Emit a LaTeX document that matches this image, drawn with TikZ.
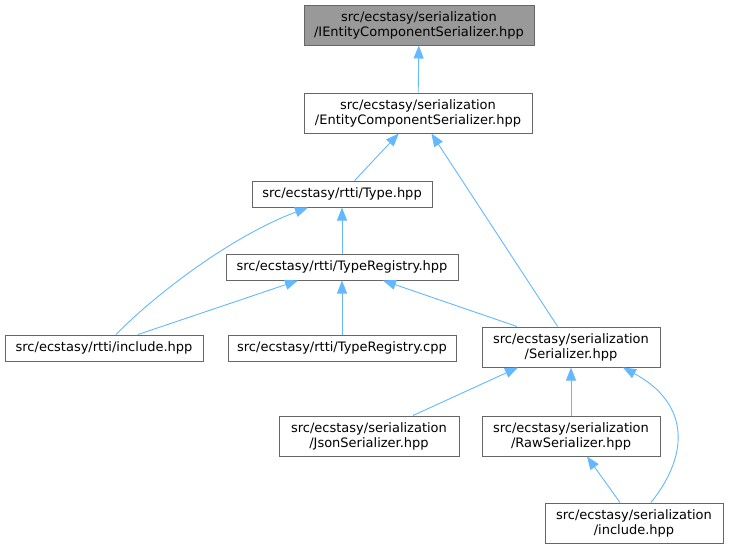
\documentclass[tikz,border=0pt]{standalone}
\usepackage{fontspec}
\setmainfont{DejaVu Sans}
\usetikzlibrary{arrows.meta}
\definecolor{edgeblue}{HTML}{63B8FF}
\definecolor{boxgray}{HTML}{666666}
\definecolor{fillgray}{HTML}{999999}
\begin{document}
\begin{tikzpicture}[x=1pt,y=-1pt,
  box/.style={draw=boxgray,line width=1pt,fill=white,rectangle,inner sep=0pt,align=center,font=\fontsize{13}{15}\selectfont},
  dep/.style={draw=edgeblue,line width=0.9pt,-{Triangle[length=13pt,width=10pt]},edgeblue}]
\useasboundingbox (0,0) rectangle (729,549);
\node[box,fill=fillgray,minimum width=230,minimum height=40] (iecs) at (419,25) {src/ecstasy/serialization\\/IEntityComponentSerializer.hpp};
\node[box,minimum width=228,minimum height=40] (ecs) at (418,113) {src/ecstasy/serialization\\/EntityComponentSerializer.hpp};
\node[box,minimum width=180,minimum height=26] (type) at (342,194) {src/ecstasy/rtti/Type.hpp};
\node[box,minimum width=232,minimum height=26] (treg) at (342,267) {src/ecstasy/rtti/TypeRegistry.hpp};
\node[box,minimum width=198,minimum height=26] (rinc) at (104,348) {src/ecstasy/rtti/include.hpp};
\node[box,minimum width=228,minimum height=26] (tcpp) at (342,348) {src/ecstasy/rtti/TypeRegistry.cpp};
\node[box,minimum width=178,minimum height=40] (ser) at (571,347) {src/ecstasy/serialization\\/Serializer.hpp};
\node[box,minimum width=180,minimum height=40] (json) at (369,436) {src/ecstasy/serialization\\/JsonSerializer.hpp};
\node[box,minimum width=178,minimum height=40] (raw) at (571,436) {src/ecstasy/serialization\\/RawSerializer.hpp};
\node[box,minimum width=178,minimum height=40] (sinc) at (634,523) {src/ecstasy/serialization\\/include.hpp};

\draw[dep] (ecs) -- (iecs);
\draw[dep] (type) -- (ecs);
\draw[dep] (ser) -- (ecs);
\draw[dep] (treg) -- (type);
\draw[dep] ([xshift=12pt]rinc.north) .. controls +(35,-36) and +(-80,30) .. ([xshift=-34pt]type.south);
\draw[dep] ([xshift=34pt]rinc.north) -- ([xshift=-44pt]treg.south);
\draw[dep] (tcpp) -- (treg);
\draw[dep] ([xshift=-54pt]ser.north) -- ([xshift=41pt]treg.south);
\draw[dep] ([xshift=44pt]json.north) -- ([xshift=-53pt]ser.south);
\draw[dep] (raw) -- (ser);
\draw[dep] ([xshift=-14pt]sinc.north) -- ([xshift=16pt]raw.south);
\draw[dep] ([xshift=17pt]sinc.north) .. controls +(40,-50) and +(65,35) .. ([xshift=52pt]ser.south);
\end{tikzpicture}
\end{document}
